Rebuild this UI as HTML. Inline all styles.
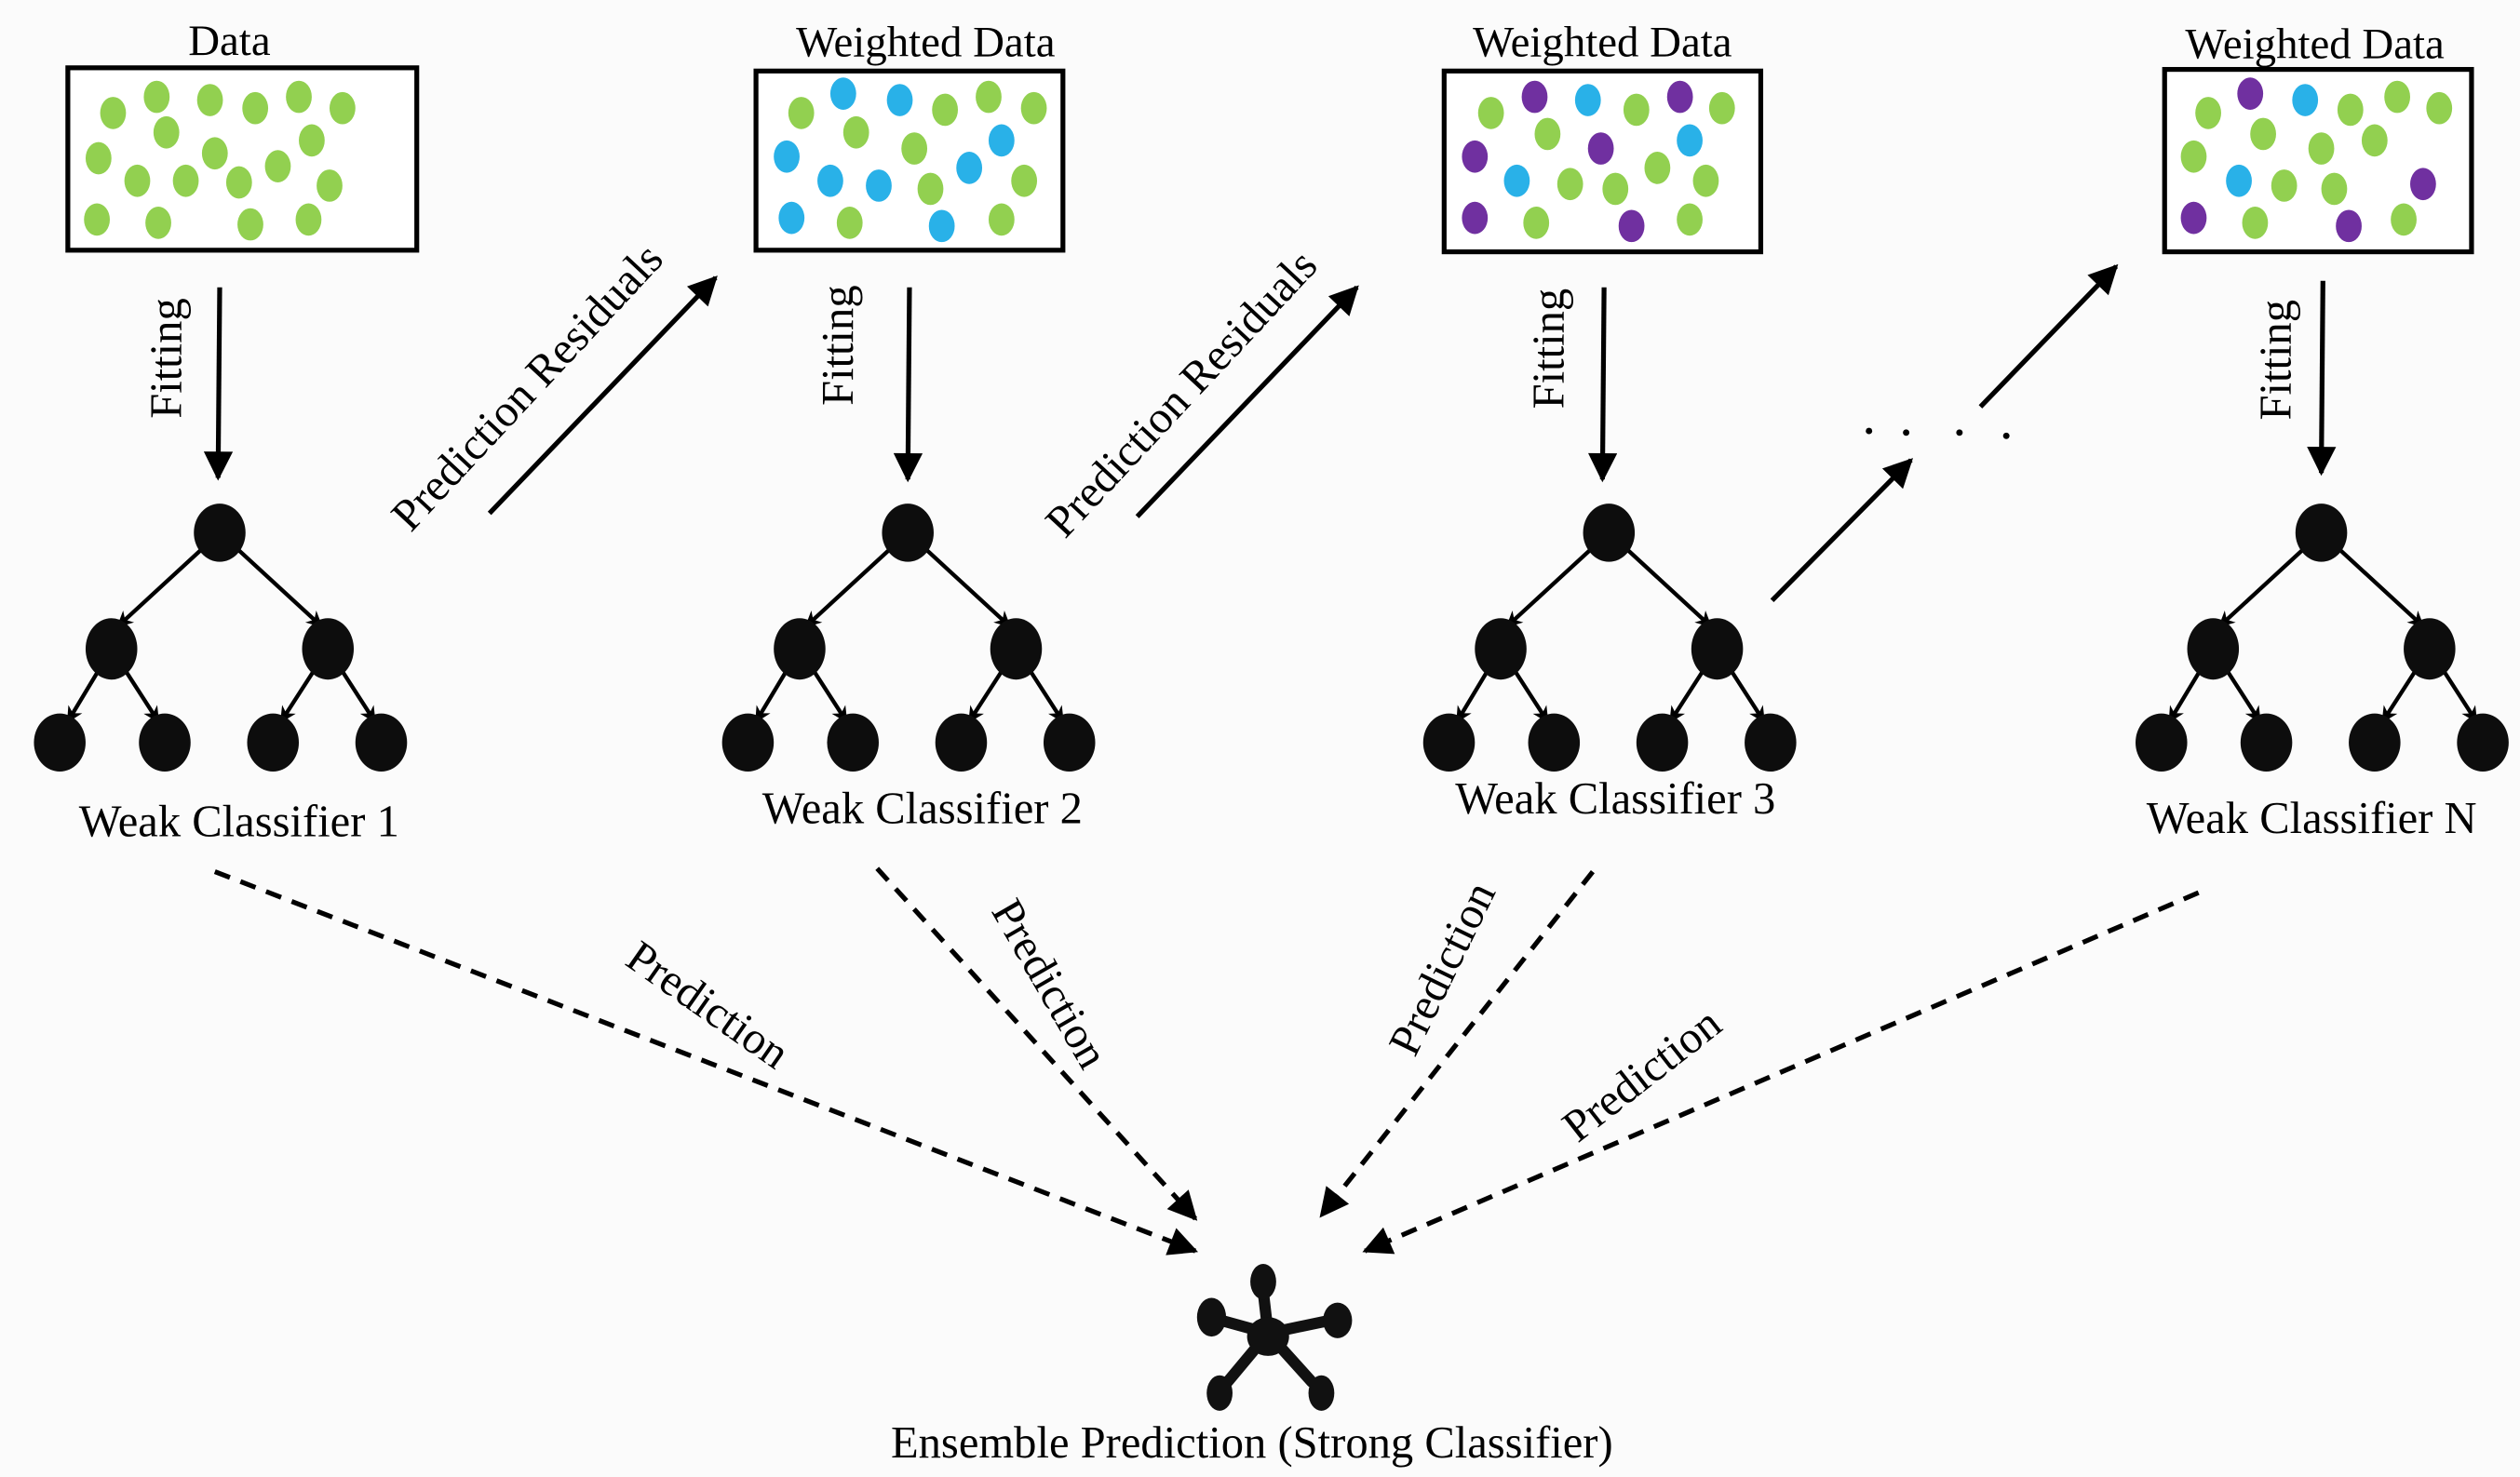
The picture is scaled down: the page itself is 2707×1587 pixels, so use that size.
<!DOCTYPE html>
<html><head><meta charset="utf-8"><style>
html,body{margin:0;padding:0;background:#fff;}
svg{display:block;}
text{font-family:"Liberation Serif",serif;fill:#000;}
</style></head><body>
<svg width="2707" height="1587" viewBox="0 0 1560 915" preserveAspectRatio="none" xmlns="http://www.w3.org/2000/svg">
<defs>
<marker id="big" viewBox="0 0 10 10" refX="9" refY="5" markerWidth="24" markerHeight="18" orient="auto" markerUnits="userSpaceOnUse"><path d="M0,0 L10,5 L0,10 z"/></marker>
<marker id="sm" viewBox="0 0 10 10" refX="9" refY="5" markerWidth="12" markerHeight="10" orient="auto" markerUnits="userSpaceOnUse"><path d="M0,0 L10,5 L0,10 L3,5 z"/></marker>
</defs>
<rect width="1560" height="915" fill="#fbfbfb"/>

<g fill="#fff" stroke="#000" stroke-width="3">
<rect x="42" y="42" width="216" height="113"/>
<rect x="468" y="44" width="190" height="111"/>
<rect x="894" y="44" width="196" height="112"/>
<rect x="1340" y="43" width="190" height="113"/>
</g>
<g font-size="27" text-anchor="middle">
<text x="142" y="34">Data</text>
<text x="573" y="35">Weighted Data</text>
<text x="992" y="35">Weighted Data</text>
<text x="1433" y="36">Weighted Data</text>
</g>

<g fill="#92d050">
<ellipse cx="70" cy="70" rx="8" ry="10"/><ellipse cx="97" cy="60" rx="8" ry="10"/><ellipse cx="130" cy="62" rx="8" ry="10"/><ellipse cx="158" cy="67" rx="8" ry="10"/><ellipse cx="185" cy="60" rx="8" ry="10"/><ellipse cx="212" cy="67" rx="8" ry="10"/>
<ellipse cx="61" cy="98" rx="8" ry="10"/><ellipse cx="103" cy="82" rx="8" ry="10"/><ellipse cx="133" cy="95" rx="8" ry="10"/><ellipse cx="193" cy="87" rx="8" ry="10"/><ellipse cx="204" cy="115" rx="8" ry="10"/>
<ellipse cx="85" cy="112" rx="8" ry="10"/><ellipse cx="115" cy="112" rx="8" ry="10"/><ellipse cx="148" cy="113" rx="8" ry="10"/><ellipse cx="172" cy="103" rx="8" ry="10"/>
<ellipse cx="60" cy="136" rx="8" ry="10"/><ellipse cx="98" cy="138" rx="8" ry="10"/><ellipse cx="155" cy="139" rx="8" ry="10"/><ellipse cx="191" cy="136" rx="8" ry="10"/>
<ellipse cx="496" cy="70" rx="8" ry="10"/><ellipse cx="585" cy="68" rx="8" ry="10"/><ellipse cx="612" cy="60" rx="8" ry="10"/><ellipse cx="640" cy="67" rx="8" ry="10"/><ellipse cx="530" cy="82" rx="8" ry="10"/><ellipse cx="566" cy="92" rx="8" ry="10"/><ellipse cx="576" cy="117" rx="8" ry="10"/><ellipse cx="634" cy="112" rx="8" ry="10"/><ellipse cx="526" cy="138" rx="8" ry="10"/><ellipse cx="620" cy="136" rx="8" ry="10"/>
<ellipse cx="923" cy="70" rx="8" ry="10"/><ellipse cx="1013" cy="68" rx="8" ry="10"/><ellipse cx="1066" cy="67" rx="8" ry="10"/><ellipse cx="958" cy="83" rx="8" ry="10"/><ellipse cx="972" cy="114" rx="8" ry="10"/><ellipse cx="1000" cy="117" rx="8" ry="10"/><ellipse cx="1026" cy="104" rx="8" ry="10"/><ellipse cx="1056" cy="112" rx="8" ry="10"/><ellipse cx="951" cy="138" rx="8" ry="10"/><ellipse cx="1046" cy="136" rx="8" ry="10"/>
<ellipse cx="1367" cy="70" rx="8" ry="10"/><ellipse cx="1455" cy="68" rx="8" ry="10"/><ellipse cx="1484" cy="60" rx="8" ry="10"/><ellipse cx="1510" cy="67" rx="8" ry="10"/><ellipse cx="1401" cy="83" rx="8" ry="10"/><ellipse cx="1358" cy="97" rx="8" ry="10"/><ellipse cx="1437" cy="92" rx="8" ry="10"/><ellipse cx="1470" cy="87" rx="8" ry="10"/><ellipse cx="1414" cy="115" rx="8" ry="10"/><ellipse cx="1445" cy="117" rx="8" ry="10"/><ellipse cx="1396" cy="138" rx="8" ry="10"/><ellipse cx="1488" cy="136" rx="8" ry="10"/>
</g>
<g fill="#29b1e8">
<ellipse cx="522" cy="58" rx="8" ry="10"/><ellipse cx="557" cy="62" rx="8" ry="10"/><ellipse cx="487" cy="97" rx="8" ry="10"/><ellipse cx="620" cy="87" rx="8" ry="10"/><ellipse cx="514" cy="112" rx="8" ry="10"/><ellipse cx="544" cy="115" rx="8" ry="10"/><ellipse cx="600" cy="104" rx="8" ry="10"/><ellipse cx="490" cy="135" rx="8" ry="10"/><ellipse cx="583" cy="140" rx="8" ry="10"/>
<ellipse cx="983" cy="62" rx="8" ry="10"/><ellipse cx="1046" cy="87" rx="8" ry="10"/><ellipse cx="939" cy="112" rx="8" ry="10"/>
<ellipse cx="1427" cy="62" rx="8" ry="10"/><ellipse cx="1386" cy="112" rx="8" ry="10"/>
</g>
<g fill="#7030a0">
<ellipse cx="950" cy="60" rx="8" ry="10"/><ellipse cx="1040" cy="60" rx="8" ry="10"/><ellipse cx="913" cy="97" rx="8" ry="10"/><ellipse cx="991" cy="92" rx="8" ry="10"/><ellipse cx="913" cy="135" rx="8" ry="10"/><ellipse cx="1010" cy="140" rx="8" ry="10"/>
<ellipse cx="1393" cy="58" rx="8" ry="10"/><ellipse cx="1500" cy="114" rx="8" ry="10"/><ellipse cx="1358" cy="135" rx="8" ry="10"/><ellipse cx="1454" cy="140" rx="8" ry="10"/>
</g>

<g stroke="#000" stroke-width="3" fill="none" marker-end="url(#big)">
<line x1="136" y1="178" x2="135" y2="296"/>
<line x1="563" y1="178" x2="562" y2="297"/>
<line x1="993" y1="178" x2="992" y2="297"/>
<line x1="1438" y1="174" x2="1437" y2="293"/>
<line x1="303" y1="318" x2="443" y2="172"/>
<line x1="704" y1="320" x2="840" y2="178"/>
<line x1="1097" y1="372" x2="1183" y2="285"/>
<line x1="1226" y1="252" x2="1310" y2="165"/>
</g>
<g font-size="28" text-anchor="middle">
<text transform="translate(112,222) rotate(-90)">Fitting</text>
<text transform="translate(528,214) rotate(-90)">Fitting</text>
<text transform="translate(968,216) rotate(-90)">Fitting</text>
<text transform="translate(1418,223) rotate(-90)">Fitting</text>
<text transform="translate(333,246) rotate(-47)">Prediction Residuals</text>
<text transform="translate(738,250) rotate(-47)">Prediction Residuals</text>
</g>
<g fill="#000"><circle cx="1157" cy="267" r="2"/><circle cx="1180" cy="268" r="2"/><circle cx="1213" cy="268" r="2"/><circle cx="1242" cy="270" r="2"/></g>

<g id="tree">
<g stroke="#000" stroke-width="2.5" marker-end="url(#sm)">
<line x1="136" y1="330" x2="73" y2="388"/><line x1="136" y1="330" x2="199" y2="388"/>
<line x1="69" y1="402" x2="42" y2="447"/><line x1="69" y1="402" x2="98" y2="447"/>
<line x1="203" y1="402" x2="174" y2="447"/><line x1="203" y1="402" x2="232" y2="447"/>
</g>
<g fill="#0d0d0d">
<ellipse cx="136" cy="330" rx="16" ry="18"/>
<ellipse cx="69" cy="402" rx="16" ry="19"/><ellipse cx="203" cy="402" rx="16" ry="19"/>
<ellipse cx="37" cy="460" rx="16" ry="18"/><ellipse cx="102" cy="460" rx="16" ry="18"/><ellipse cx="169" cy="460" rx="16" ry="18"/><ellipse cx="236" cy="460" rx="16" ry="18"/>
</g>
</g>
<use href="#tree" transform="translate(426,0)"/>
<use href="#tree" transform="translate(860,0)"/>
<use href="#tree" transform="translate(1301,0)"/>

<g font-size="28" text-anchor="middle">
<text x="148" y="518">Weak Classifier 1</text>
<text x="571" y="510">Weak Classifier 2</text>
<text x="1000" y="504">Weak Classifier 3</text>
<text x="1431" y="516">Weak Classifier N</text>
</g>

<g stroke="#000" stroke-width="3" stroke-dasharray="10,7" fill="none" marker-end="url(#big)">
<line x1="133" y1="540" x2="740" y2="775"/>
<line x1="543" y1="538" x2="740" y2="755"/>
<line x1="986" y1="540" x2="818" y2="753"/>
<line x1="1361" y1="553" x2="845" y2="775"/>
</g>
<g font-size="28" text-anchor="middle">
<text transform="translate(433,630) rotate(35)">Prediction</text>
<text transform="translate(642,614) rotate(60)">Prediction</text>
<text transform="translate(901,604) rotate(-64)">Prediction</text>
<text transform="translate(1022,673) rotate(-38)">Prediction</text>
</g>

<g stroke="#111" stroke-width="7" stroke-linecap="round">
<line x1="785" y1="826" x2="782" y2="800"/><line x1="785" y1="826" x2="756" y2="818"/><line x1="785" y1="826" x2="823" y2="818"/><line x1="785" y1="826" x2="760" y2="856"/><line x1="785" y1="826" x2="812" y2="856"/>
</g>
<g fill="#111">
<ellipse cx="785" cy="828" rx="13" ry="12"/>
<ellipse cx="782" cy="794" rx="8" ry="11"/>
<ellipse cx="750" cy="816" rx="9" ry="12"/>
<ellipse cx="828" cy="818" rx="9" ry="11"/>
<ellipse cx="755" cy="863" rx="8" ry="11"/>
<ellipse cx="818" cy="863" rx="8" ry="11"/>
</g>
<text x="775" y="903" font-size="28" text-anchor="middle">Ensemble Prediction (Strong Classifier)</text>
</svg>
</body></html>
